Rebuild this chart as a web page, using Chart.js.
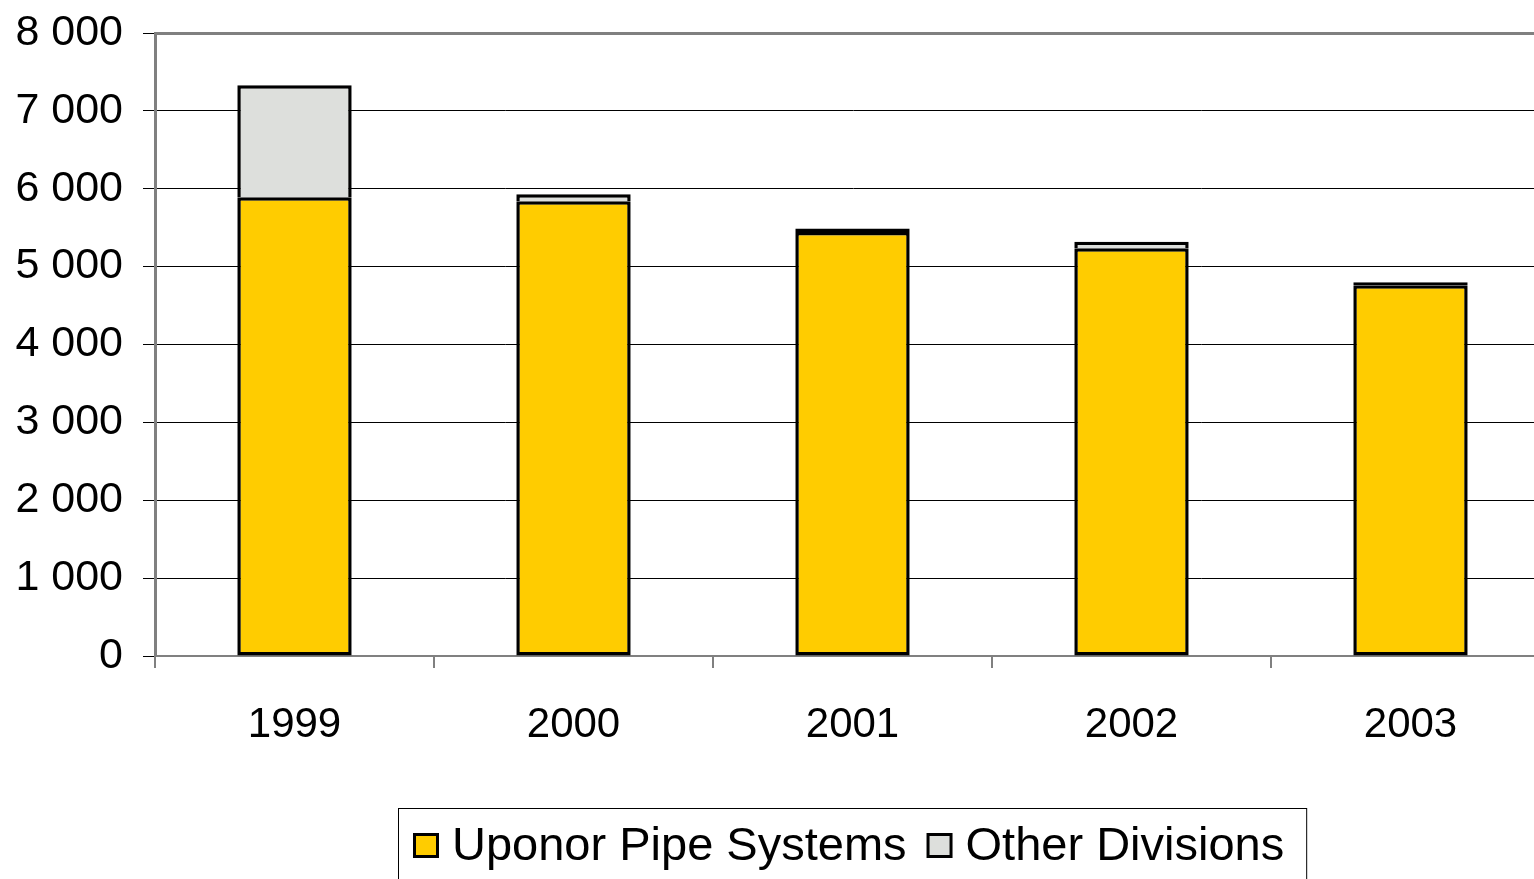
<!DOCTYPE html>
<html>
<head>
<meta charset="utf-8">
<script src="https://cdn.jsdelivr.net/npm/chart.js@4.4.1/dist/chart.umd.min.js"></script>
<style>
  html, body { margin: 0; padding: 0; background: #ffffff; overflow: hidden; }
  #wrap { position: absolute; left: 0; top: 0; width: 1552px; height: 892px; }
</style>
</head>
<body>
<div id="wrap"><canvas id="chart" width="1552" height="892"></canvas></div>
<script>
// Net sales by division, 1999–2003
const years = ['1999', '2000', '2001', '2002', '2003'];
const uponorPipeSystems = [5890, 5840, 5445, 5235, 4760];
const otherDivisions = [1440, 90, 45, 85, 40];
const yTickValues = [0, 1000, 2000, 3000, 4000, 5000, 6000, 7000, 8000];
const yMax = 8000;

const FONT = '"Liberation Sans", Arial, Helvetica, sans-serif';
const AXIS_GREY = '#808080';
const BORDER = 3.5;

// Thousands separated by a space: 8 000
function fmt(v) {
  return String(v).replace(/\B(?=(\d{3})+(?!\d))/g, ' ');
}

// Very thin segments are outlined all round so they read as a solid dark cap
function segmentSkip(ctx) {
  const y = ctx.chart.scales && ctx.chart.scales.y;
  if (!y || typeof ctx.raw !== 'number') return 'start';
  const h = Math.abs(y.getPixelForValue(ctx.raw) - y.getPixelForValue(0));
  return h < 5 ? false : 'start';
}

// Boxed legend centred under the plot area
const boxedLegend = {
  id: 'boxedLegend',
  afterDraw(chart) {
    const ctx = chart.ctx;
    const area = chart.chartArea;
    const fontSize = 47;
    const sw = 26, gapText = 13, gapItem = 20, padX = 15, padR = 22;
    ctx.save();
    ctx.font = fontSize + 'px ' + FONT;
    const items = chart.data.datasets.map(ds => ({
      label: ds.label, fill: ds.backgroundColor, w: ctx.measureText(ds.label).width
    }));
    let total = padX + padR;
    items.forEach((it, i) => { total += sw + gapText + it.w + (i ? gapItem : 0); });
    const cx = (area.left + area.right) / 2;
    const left = Math.round(cx - total / 2);
    const top = area.bottom + 152;
    const height = 100;
    ctx.strokeStyle = '#000000';
    ctx.lineWidth = 1;
    ctx.strokeRect(left + 0.5, top + 0.5, total, height);
    const midY = top + 38;
    let x = left + padX;
    items.forEach((it, i) => {
      if (i) x += gapItem;
      ctx.fillStyle = '#000000';
      ctx.fillRect(x, midY - sw / 2, sw, sw - 1);
      ctx.fillStyle = it.fill;
      ctx.fillRect(x + 3, midY - sw / 2 + 3, sw - 6, sw - 7);
      x += sw + gapText;
      ctx.fillStyle = '#000000';
      ctx.textBaseline = 'middle';
      ctx.textAlign = 'left';
      ctx.fillText(it.label, x, midY + 1);
      x += it.w;
    });
    ctx.restore();
  }
};

new Chart(document.getElementById('chart'), {
  type: 'bar',
  data: {
    labels: years,
    datasets: [
      {
        label: 'Uponor Pipe Systems',
        data: uponorPipeSystems,
        backgroundColor: '#FFCC00',
        borderColor: '#000000',
        borderWidth: BORDER,
        borderSkipped: false
      },
      {
        label: 'Other Divisions',
        data: otherDivisions,
        backgroundColor: '#DDDFDC',
        borderColor: '#000000',
        borderWidth: BORDER,
        borderSkipped: segmentSkip
      }
    ]
  },
  options: {
    responsive: false,
    animation: false,
    devicePixelRatio: 1,
    layout: { padding: { top: 33, right: 2, bottom: 0, left: 0 } },
    datasets: { bar: { barPercentage: 0.41, categoryPercentage: 1.0 } },
    plugins: {
      legend: { display: false },
      tooltip: { enabled: false }
    },
    scales: {
      x: {
        stacked: true,
        grid: { display: true, drawOnChartArea: false, drawTicks: true, tickLength: 12, color: AXIS_GREY, tickColor: AXIS_GREY, tickWidth: 2, lineWidth: 2, offset: true },
        border: { display: true, color: AXIS_GREY, width: 2 },
        ticks: { color: '#000000', font: { family: FONT, size: 42 }, padding: 32, maxRotation: 0 },
        afterFit(scale) { scale.height = 236; }
      },
      y: {
        stacked: true,
        min: 0,
        max: yMax,
        afterBuildTicks(scale) { scale.ticks = yTickValues.map(v => ({ value: v })); },
        grid: {
          color: c => (c.tick && c.tick.value === yMax ? AXIS_GREY : '#000000'),
          lineWidth: c => (c.tick && c.tick.value === yMax ? 3 : 1),
          tickColor: '#000000',
          tickWidth: 1,
          drawTicks: true,
          tickLength: 12
        },
        border: { display: true, color: AXIS_GREY, width: 3 },
        ticks: { color: '#000000', font: { family: FONT, size: 43, lineHeight: 0.6 }, padding: 20, callback: v => fmt(v) },
        afterFit(scale) { scale.width = 155; }
      }
    }
  },
  plugins: [boxedLegend]
});
</script>
</body>
</html>
